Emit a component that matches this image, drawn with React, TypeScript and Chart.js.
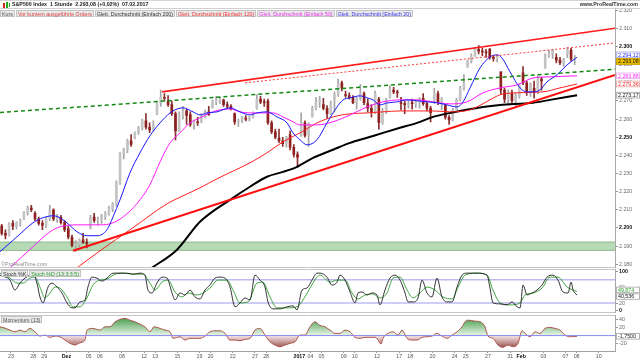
import React, { useEffect, useRef } from 'react';
import { Chart, registerables } from 'chart.js';

Chart.register(...registerables);

const FONT = '"Liberation Sans", Arial, Helvetica, sans-serif';
const FS = 5.3;
Chart.defaults.font.family = FONT;
Chart.defaults.font.size = FS;

// ---------- x axis: trading-day index, 0 = 23.11.2016 ----------
const X_MIN = -0.99;
const X_MAX = 54.46;
const FIRST_DAY = -1; // 22.11.2016
const BARS_PER_DAY = 3;

const dayTicks = [0, 2, 3, 5, 7, 8, 10, 12, 13, 15, 17, 18, 20, 22, 23, 26, 27, 28, 30, 31, 33, 35, 36, 38, 40, 41, 43, 45, 46, 48, 50, 51, 53];
const dayLabels = ['23', '28', '29', 'Dez', '05', '06', '08', '12', '13', '15', '19', '20', '22', '27', '28', '2017', '04', '05', '09', '10', '12', '17', '18', '20', '24', '25', '27', '31', 'Feb', '03', '07', '08', '10'];
const boldDayLabels = ['Dez', '2017', 'Feb'];

const priceTicks = [2180, 2190, 2200, 2210, 2220, 2230, 2240, 2250, 2260, 2270, 2280, 2290, 2300, 2310, 2320];
const boldPriceTicks = [2200, 2250, 2300];
const stochTicks = [0, 20, 40, 60, 100];
const boldStochTicks = [0, 100];
const momentumTicks = [-20, 0, 20, 40];

// ---------- candles (3 per trading day) ----------
const opens = [
  2201, 2197, 2196, 2202.5, 2201, 2203, 2205, 2208.5, 2211, 2208, 2205, 2202.5,
  2201.5, 2205, 2210, 2205, 2206, 2203, 2199.5, 2195, 2190.5, 2191, 2193.5, 2192,
  2200, 2206, 2204, 2205, 2206, 2208, 2210.5, 2213, 2225, 2241, 2243, 2248,
  2249.5, 2252.5, 2255, 2259, 2255.5, 2254, 2263, 2269, 2272, 2270, 2268, 2263,
  2253.5, 2262, 2264.5, 2262.5, 2257, 2258.5, 2259, 2261.5, 2264, 2266.5, 2269.5, 2270.5,
  2270.5, 2268, 2267, 2263, 2258.5, 2259.5, 2260.5, 2260, 2261, 2266, 2271, 2269.5,
  2270, 2258, 2253, 2249.5, 2248, 2246.5, 2251.5, 2244.5, 2240.5, 2251.5, 2258, 2251,
  2261.5, 2266, 2269.5, 2268, 2266, 2263, 2271, 2273.5, 2280, 2273.5, 2273, 2272,
  2269, 2271.5, 2274, 2268.5, 2266, 2264, 2271, 2258, 2264, 2272.5, 2276, 2275,
  2269, 2268.5, 2268, 2269, 2268.5, 2269.5, 2271.5, 2268.5, 2266, 2270, 2274, 2269.5,
  2267.5, 2261, 2259.5, 2265.5, 2270.5, 2277, 2289, 2292, 2295, 2298.5, 2297.5, 2297,
  2298.5, 2294, 2293.5, 2286, 2276, 2271, 2274, 2270, 2272.5, 2285.5, 2280, 2275,
  2277, 2275, 2282, 2288.5, 2295, 2296, 2294, 2292.5, 2291, 2296, 2298, 2293,
];
const highs = [
  2202, 2199, 2203, 2204, 2203.5, 2205, 2209, 2212, 2212.5, 2209, 2206, 2204,
  2206, 2212.5, 2210.5, 2207.5, 2207, 2204, 2201, 2196, 2193, 2194, 2197, 2194,
  2207, 2208, 2206, 2207.5, 2209, 2212, 2214, 2226, 2241.5, 2244, 2249, 2251.5,
  2253, 2256, 2260, 2263, 2258, 2259, 2270, 2276, 2274, 2273, 2270, 2264,
  2264, 2267, 2265.5, 2264, 2259.5, 2261, 2263, 2265, 2267, 2270.5, 2272.5, 2272,
  2271, 2269.5, 2268, 2263.5, 2260, 2261.5, 2262, 2261.5, 2264, 2273.5, 2272.5, 2271,
  2271, 2259, 2254.5, 2254.5, 2250, 2250.5, 2253.5, 2246, 2242, 2263.5, 2259, 2258,
  2267, 2272, 2272.5, 2271.5, 2267.5, 2270, 2275, 2282, 2281, 2275.5, 2274.5, 2273,
  2272, 2279, 2275, 2271, 2268, 2275.5, 2272, 2266, 2271.5, 2278.5, 2277.5, 2276,
  2272, 2270, 2270, 2271, 2270.5, 2272, 2274, 2269.5, 2267, 2277, 2275.5, 2272,
  2268, 2262, 2266, 2271.5, 2278, 2284.5, 2292.5, 2296, 2299.5, 2300.5, 2299, 2298.5,
  2299, 2295, 2295.5, 2286, 2277, 2276, 2276, 2274, 2279.5, 2289, 2281, 2280,
  2281, 2284, 2283, 2296, 2298, 2298.5, 2296, 2294, 2293.5, 2299.5, 2299, 2295,
];
const lows = [
  2196, 2194, 2195.5, 2199, 2199.5, 2201, 2204.5, 2207, 2209, 2204, 2201.5, 2199,
  2200, 2204, 2204, 2203, 2202, 2198, 2194, 2189.5, 2187, 2189.5, 2191.5, 2189,
  2199.5, 2203, 2201.5, 2202.5, 2204.5, 2207, 2209, 2212, 2224, 2238, 2241.5, 2245,
  2249, 2251.5, 2254, 2254.5, 2252.5, 2253.5, 2262.5, 2267, 2270, 2267, 2262, 2248.5,
  2253, 2260, 2257, 2256, 2254.5, 2256.5, 2258, 2260.5, 2262, 2266, 2268, 2268.5,
  2267, 2266, 2265, 2257, 2256, 2258, 2259, 2259, 2260.5, 2265.5, 2268.5, 2267,
  2257, 2252, 2249, 2247, 2245, 2244.5, 2243, 2239, 2233.5, 2250.5, 2250, 2245,
  2261, 2265, 2266.5, 2265, 2260.5, 2262.5, 2264, 2272.5, 2275.5, 2272, 2271, 2268.5,
  2265.5, 2270.5, 2268, 2264, 2261, 2263, 2254.5, 2257, 2263, 2271.5, 2274, 2272,
  2265, 2263, 2266, 2265.5, 2266.5, 2266, 2267.5, 2264.5, 2258.5, 2268.5, 2268, 2265,
  2260, 2257, 2259, 2265, 2270, 2276, 2288.5, 2291, 2294.5, 2296, 2295, 2294,
  2293, 2292, 2291.5, 2274, 2269, 2268, 2268, 2267, 2271.5, 2279, 2273, 2272.5,
  2271.5, 2274, 2276, 2288, 2294, 2293.5, 2291, 2290, 2289, 2294, 2292, 2290,
];
const closes = [
  2197, 2196, 2202.5, 2201, 2203, 2204.5, 2208.5, 2211, 2210, 2205, 2202.5, 2201.5,
  2205, 2210, 2205, 2206, 2203, 2199, 2195, 2190.5, 2191, 2193.5, 2192, 2191.5,
  2206, 2204, 2204.5, 2206, 2208, 2211.5, 2213, 2225, 2241, 2243, 2248, 2246,
  2252.5, 2255, 2259.5, 2255.5, 2254, 2257, 2269, 2272, 2271.5, 2268, 2263, 2253.5,
  2262, 2264.5, 2262, 2257, 2258.5, 2258, 2261.5, 2264, 2262.5, 2269.5, 2270.5, 2270.5,
  2268, 2267, 2265.5, 2258.5, 2259.5, 2261, 2260, 2261, 2263.5, 2271, 2269.5, 2269,
  2258, 2253, 2250, 2248, 2246.5, 2249.5, 2244.5, 2240.5, 2239, 2258, 2251, 2257.5,
  2266, 2269.5, 2270.5, 2266, 2263, 2269, 2273.5, 2280, 2277, 2273, 2272, 2269,
  2271.5, 2274, 2269, 2266, 2264, 2274, 2258, 2264, 2270.5, 2276, 2275, 2274.5,
  2268.5, 2268, 2268, 2268.5, 2269.5, 2271.5, 2268.5, 2266, 2263.5, 2274, 2269.5, 2271,
  2261, 2259.5, 2265, 2270.5, 2277, 2280, 2292, 2295, 2298.5, 2297.5, 2297, 2296.5,
  2294, 2293.5, 2294.5, 2276, 2271, 2274, 2270, 2272.5, 2279, 2280, 2275, 2279.5,
  2275, 2282, 2281, 2295, 2296, 2297.5, 2292.5, 2291, 2292.5, 2298, 2293, 2293.08,
];

// ---------- moving averages [day, price] ----------
const ma20 = [[-0.99, 2186.9], [0.54, 2195.1], [1.98, 2202.8], [2.89, 2205.6], [3.79, 2206.7], [4.24, 2206.1], [5.05, 2202.8], [5.95, 2197.9], [6.85, 2195.7], [7.75, 2195.7], [8.66, 2199.0], [9.2, 2206.1], [9.83, 2215.5], [10.73, 2230.4], [11.63, 2241.4], [12.53, 2250.8], [13.44, 2257.9], [14.34, 2263.4], [14.79, 2265.1], [15.51, 2266.2], [16.41, 2264.0], [17.04, 2262.3], [17.67, 2263.4], [18.58, 2264.0], [19.75, 2266.2], [20.65, 2264.0], [21.55, 2262.3], [22.18, 2263.4], [23.08, 2264.0], [23.99, 2261.2], [24.89, 2257.9], [25.43, 2252.4], [26.06, 2248.6], [26.69, 2245.8], [27.59, 2248.6], [28.49, 2257.9], [29.4, 2266.7], [29.94, 2270.6], [30.57, 2271.7], [31.47, 2272.8], [32.1, 2271.7], [32.64, 2270.6], [33.27, 2267.8], [33.9, 2268.9], [34.81, 2269.5], [35.71, 2270.6], [36.61, 2270.1], [37.51, 2269.5], [38.41, 2269.0], [39.31, 2267.8], [40.22, 2266.7], [40.76, 2269.5], [41.39, 2277.2], [42.29, 2288.2], [43.19, 2294.3], [43.82, 2295.4], [44.27, 2293.7], [45.0, 2286.0], [45.9, 2277.2], [46.53, 2275.0], [47.07, 2275.0], [47.7, 2276.1], [48.33, 2280.5], [49.23, 2284.4], [50.14, 2289.9], [51.04, 2294.12]];
const ma50 = [[-0.09, 2178.0], [1.98, 2189.6], [3.52, 2197.9], [4.42, 2200.6], [5.95, 2201.7], [8.03, 2201.7], [9.2, 2202.8], [10.46, 2207.8], [11.63, 2215.5], [12.53, 2223.8], [13.44, 2236.4], [14.34, 2246.9], [15.24, 2252.4], [16.14, 2257.9], [17.04, 2260.7], [17.94, 2263.4], [18.85, 2265.1], [19.75, 2265.6], [20.65, 2264.0], [21.55, 2263.4], [22.72, 2263.4], [23.62, 2263.4], [24.53, 2261.2], [25.43, 2258.5], [26.06, 2256.8], [27.59, 2256.8], [29.03, 2258.5], [30.57, 2262.3], [32.1, 2266.7], [33.54, 2269.5], [35.08, 2270.6], [36.61, 2270.6], [38.05, 2269.5], [39.58, 2268.4], [41.12, 2269.5], [42.56, 2274.5], [44.09, 2277.2], [45.63, 2278.9], [47.07, 2282.7], [48.6, 2283.3], [51.04, 2283.88]];
const ma120 = [[5.95, 2178.0], [8.03, 2187.4], [11.0, 2200.1], [14.07, 2213.3], [15.51, 2217.7], [17.04, 2222.1], [18.58, 2227.1], [21.55, 2235.9], [23.08, 2241.4], [24.53, 2247.5], [26.06, 2252.4], [27.59, 2257.9], [29.03, 2261.2], [30.57, 2262.9], [32.1, 2263.4], [33.54, 2264.0], [35.08, 2264.5], [36.61, 2264.5], [38.05, 2264.5], [39.58, 2264.0], [41.39, 2265.1], [43.19, 2270.6], [44.09, 2273.4], [45.63, 2274.5], [47.97, 2275.0], [49.5, 2277.2], [51.04, 2279.36]];
const ma200 = [[12.71, 2178.0], [14.97, 2188.0], [17.04, 2203.4], [20.02, 2216.6], [21.55, 2222.7], [23.08, 2228.2], [24.53, 2230.9], [25.79, 2233.7], [27.23, 2238.6], [29.03, 2243.1], [30.57, 2246.9], [32.1, 2249.7], [33.54, 2252.4], [35.08, 2255.2], [36.61, 2257.9], [38.05, 2261.2], [39.58, 2263.4], [42.56, 2266.7], [44.09, 2267.8], [47.07, 2269.0], [48.6, 2270.6], [51.04, 2273.17]];

// ---------- drawn trend lines [day, price] ----------
const upperChannel = [[13.62, 2275.0], [54.46, 2310.1]];
const upperDotted = [[21.1, 2280.0], [54.46, 2302.0]];
const greenDashed = [[-0.99, 2263.6], [54.46, 2287.5]];
const lowerChannel = [[5.59, 2187.4], [54.46, 2284.4]];
const supportZone = [2187.6, 2192.2];

// ---------- stochastic [day, value] ----------
const stochK = [[-0.99, 91.6], [-0.54, 87.3], [-0.09, 78.9], [0.36, 53.4], [0.81, 71.2], [1.26, 84.0], [1.71, 91.6], [1.98, 96.7], [2.34, 71.2], [2.61, 35.6], [2.89, 20.4], [3.34, 61.1], [3.7, 71.2], [4.15, 61.1], [4.6, 45.8], [5.05, 20.4], [5.5, 7.6], [5.77, 7.6], [6.22, 22.9], [6.67, 28.0], [6.94, 61.1], [7.3, 86.5], [7.75, 84.0], [8.21, 76.3], [8.66, 84.0], [9.2, 96.7], [9.83, 96.7], [10.46, 96.7], [11.0, 94.1], [11.63, 96.7], [12.08, 91.6], [12.35, 53.4], [12.71, 45.8], [13.16, 71.2], [13.62, 86.5], [14.07, 84.0], [14.52, 45.8], [14.79, 28.0], [15.24, 45.8], [15.69, 40.7], [16.14, 53.4], [16.59, 35.6], [17.04, 30.5], [17.49, 53.4], [17.94, 66.2], [18.39, 84.0], [18.85, 86.5], [19.3, 84.0], [19.75, 61.1], [20.2, 10.2], [20.65, 20.4], [21.1, 33.1], [21.55, 28.0], [22.0, 91.6], [22.45, 78.9], [22.9, 61.1], [23.17, 22.9], [23.62, 5.1], [24.26, 5.1], [24.89, 10.2], [25.43, 12.7], [25.79, 2.5], [26.24, 53.4], [26.69, 58.5], [27.14, 78.9], [27.59, 96.7], [27.86, 96.7], [28.49, 86.5], [28.94, 66.2], [29.4, 73.8], [29.67, 91.6], [30.12, 78.9], [30.57, 48.3], [31.02, 20.4], [31.29, 45.8], [31.65, 48.3], [32.1, 40.7], [32.55, 45.8], [33.0, 40.7], [33.27, 15.3], [33.72, 53.4], [34.17, 84.0], [34.63, 91.6], [35.08, 78.9], [35.53, 45.8], [35.8, 22.9], [36.25, 22.9], [36.7, 33.1], [37.06, 78.9], [37.51, 45.8], [37.96, 35.6], [38.41, 84.0], [38.86, 35.6], [39.31, 22.9], [39.77, 22.9], [40.22, 61.1], [40.67, 91.6], [41.12, 96.7], [42.02, 96.7], [42.92, 91.6], [43.19, 58.5], [43.46, 20.4], [44.09, 17.8], [44.72, 15.3], [45.18, 22.9], [45.63, 10.2], [45.9, 7.6], [46.17, 66.2], [46.53, 40.7], [46.98, 45.8], [47.43, 53.4], [47.88, 66.2], [48.33, 86.5], [48.87, 91.6], [49.32, 78.9], [49.77, 48.3], [50.23, 45.8], [50.5, 73.8], [50.68, 53.4], [51.04, 40.536]];
const stochD = [[-0.99, 96.7], [-0.09, 84.0], [0.54, 71.2], [1.08, 71.2], [1.71, 84.0], [2.16, 86.5], [2.61, 61.1], [3.07, 33.1], [3.52, 45.8], [3.97, 61.1], [4.42, 58.5], [5.05, 35.6], [5.59, 10.2], [6.22, 10.2], [6.85, 33.1], [7.39, 66.2], [8.03, 78.9], [8.66, 81.4], [9.38, 94.1], [10.1, 96.7], [11.0, 94.1], [11.9, 94.1], [12.53, 71.2], [12.98, 53.4], [13.62, 73.8], [14.16, 78.9], [14.79, 48.3], [15.42, 35.6], [15.96, 45.8], [16.77, 40.7], [17.31, 45.8], [17.94, 58.5], [18.67, 78.9], [19.48, 78.9], [20.02, 53.4], [20.65, 20.4], [21.37, 22.9], [22.18, 71.2], [22.72, 73.8], [23.35, 35.6], [23.99, 7.6], [24.89, 7.6], [25.79, 10.2], [26.33, 28.0], [26.96, 58.5], [27.59, 86.5], [27.86, 91.6], [28.76, 73.8], [29.4, 78.9], [30.12, 78.9], [30.75, 45.8], [31.29, 30.5], [31.92, 40.7], [32.64, 43.3], [33.27, 33.1], [33.9, 45.8], [34.45, 84.0], [35.08, 86.5], [35.71, 53.4], [36.25, 33.1], [36.88, 45.8], [37.51, 61.1], [38.23, 53.4], [38.95, 35.6], [39.77, 30.5], [40.31, 61.1], [40.94, 91.6], [42.02, 96.7], [42.92, 91.6], [43.46, 53.4], [44.09, 20.4], [45.0, 15.3], [45.9, 20.4], [46.35, 40.7], [47.07, 45.8], [47.88, 58.5], [48.6, 86.5], [49.32, 86.5], [50.14, 61.1], [51.04, 49.874]];
const stochLevels = [80, 20];

// ---------- momentum (13) [day, value] ----------
const momentum = [[-0.99, 21.5], [-0.54, 18.3], [-0.09, 13.4], [0.36, 9.3], [0.81, 13.4], [1.26, 9.3], [1.71, 17.6], [2.16, 9.3], [2.61, -1.2], [3.07, 1.2], [3.52, -4.4], [3.97, -1.2], [4.42, -2.9], [4.87, -11.0], [5.32, -19.0], [5.77, -23.2], [6.22, -17.6], [6.67, -11.0], [6.85, 13.4], [7.39, 17.6], [8.03, 13.4], [8.48, 21.5], [8.93, 21.5], [9.38, 33.7], [9.83, 39.5], [10.28, 42.0], [10.73, 37.8], [11.18, 33.7], [11.63, 28.0], [12.08, 21.5], [12.53, 9.3], [12.89, 21.5], [13.44, 17.6], [13.89, 13.4], [14.34, 9.3], [14.61, -6.8], [15.24, -2.9], [15.69, -11.0], [16.14, -6.8], [16.59, -6.8], [17.04, -6.8], [17.49, -1.2], [17.94, 9.3], [18.39, 11.7], [18.85, 11.7], [19.3, 5.4], [19.75, -11.0], [20.2, -11.0], [20.65, -12.7], [21.1, -9.3], [21.55, -6.8], [22.0, 13.4], [22.45, 17.6], [22.9, 1.2], [23.35, -15.1], [23.81, -23.2], [24.26, -27.3], [24.71, -23.2], [25.16, -19.0], [25.61, -15.1], [26.06, 1.2], [26.51, 1.2], [26.96, 21.5], [27.41, 33.7], [27.86, 25.0], [28.31, 21.5], [28.76, 13.4], [29.21, 5.4], [29.67, 5.4], [30.12, 13.4], [30.57, 9.3], [31.02, -4.4], [31.47, -6.8], [31.92, -4.4], [32.37, -4.4], [32.82, -4.4], [33.09, -11.0], [33.36, -20.7], [33.54, -6.8], [33.99, 5.4], [34.45, 9.3], [34.9, 1.2], [35.26, 13.4], [35.71, -6.8], [36.16, -11.0], [36.61, -11.0], [37.06, -4.4], [37.51, -2.9], [37.96, -1.2], [38.41, 5.4], [38.86, -1.2], [39.31, -6.8], [39.77, 1.2], [40.22, 9.3], [40.67, 21.5], [40.94, 33.7], [41.21, 37.8], [41.84, 35.4], [42.29, 33.7], [42.74, 21.5], [43.01, -1.2], [43.46, -6.8], [43.91, -23.2], [44.36, -28.8], [44.81, -23.2], [45.27, -27.3], [45.72, -19.0], [46.08, 11.7], [46.35, 5.4], [46.8, -2.9], [47.25, 9.3], [47.7, 5.4], [48.15, 17.6], [48.6, 20.0], [49.05, 17.6], [49.5, 13.4], [49.95, 1.2], [50.41, -2.9], [51.04, -1.75]];

// ---------- helpers ----------
const last = (a: number[][]) => a[a.length - 1][1];
const toXY = (a: number[][]) => a.map(([x, y]) => ({ x, y }));
const barX = (i: number) => FIRST_DAY + Math.floor(i / BARS_PER_DAY) + ((i % BARS_PER_DAY) + 0.5) / BARS_PER_DAY;
const isUp = (i: number) => closes[i] >= opens[i];

function deNum(v: number, dec: number) {
  const s = Math.abs(v).toFixed(dec);
  const [int, frac] = s.split('.');
  const g = int.replace(/\B(?=(\d{3})+(?!\d))/g, '.');
  return (v < 0 ? '-' : '') + g + (frac ? ',' + frac : '');
}

type Box = { value: number; text: string; color: string; bg: string; border: string };

function decorPlugin(boxes: Box[], edges: string[]) {
  return {
    id: 'decor',
    afterDraw(chart: any) {
      const { ctx, chartArea: a, scales } = chart;
      ctx.save();
      ctx.strokeStyle = '#c6c6c6';
      ctx.lineWidth = 1;
      edges.forEach((e) => {
        const yy = e === 'top' ? Math.floor(a.top) + 0.5 : Math.ceil(a.bottom) - 0.5;
        ctx.beginPath();
        ctx.moveTo(a.left, yy);
        ctx.lineTo(a.right, yy);
        ctx.stroke();
      });
      const h = 6.6;
      const ys = boxes.map((b) => scales.y.getPixelForValue(b.value));
      const idx = ys.map((_, i) => i).sort((p, q) => ys[p] - ys[q]);
      for (let k = 1; k < idx.length; k++) {
        const p = idx[k - 1];
        const q = idx[k];
        if (ys[q] - ys[p] < h) {
          const m = (ys[p] + ys[q]) / 2;
          ys[p] = m - h / 2;
          ys[q] = m + h / 2;
        }
      }
      ctx.font = `${FS}px ${FONT}`;
      ctx.textBaseline = 'middle';
      ctx.textAlign = 'left';
      boxes.forEach((b, i) => {
        const top = ys[i] - h / 2;
        ctx.fillStyle = b.bg;
        ctx.fillRect(a.right + 1, top, 24, h);
        ctx.strokeStyle = b.border;
        ctx.strokeRect(a.right + 1.5, top + 0.5, 23, h - 1);
        ctx.fillStyle = b.color;
        ctx.fillText(b.text, a.right + 3, ys[i] + 0.4);
      });
      ctx.restore();
    },
  };
}

function rightAxis(min: number, max: number, ticks: number[], bold: number[], fmt: (v: number) => string) {
  return {
    position: 'right',
    min,
    max,
    beginAtZero: false,
    afterFit: (s: any) => { s.width = 25; },
    afterBuildTicks: (s: any) => { s.ticks = ticks.map((v) => ({ value: v })); },
    ticks: {
      padding: 1,
      autoSkip: false,
      font: (c: any) => ({ family: FONT, size: FS, weight: c.tick && bold.includes(c.tick.value) ? 'bold' : 'normal' }),
      color: (c: any) => (c.tick && bold.includes(c.tick.value) ? '#111' : '#6a6a6a'),
      callback: (v: any) => fmt(Number(v)),
    },
    grid: { drawOnChartArea: false, drawTicks: true, tickLength: 3, color: '#999' },
    border: { display: true, color: '#a8a8a8' },
  };
}

const hiddenX = { type: 'linear', min: X_MIN, max: X_MAX, display: false, offset: false, grid: { offset: false } };

function lineDs(data: number[][], color: string, width: number, order: number, dash: number[] = [], smooth = true) {
  return {
    type: 'line',
    data: toXY(data),
    borderColor: color,
    borderWidth: width,
    borderDash: dash,
    pointRadius: 0,
    fill: false,
    cubicInterpolationMode: smooth ? 'monotone' : 'default',
    tension: 0,
    order,
  };
}

function mainConfig(): any {
  const full = (v: number) => [[X_MIN, v], [X_MAX, v]];
  return {
    type: 'bar',
    data: {
      datasets: [
        lineDs(upperChannel, '#ff1a1a', 1.6, 1, [], false),
        lineDs(upperDotted, '#ff3a3a', 1, 1, [2, 2], false),
        lineDs(greenDashed, '#138a13', 1.5, 1, [4, 3], false),
        lineDs(lowerChannel, '#ff1010', 2, 1, [], false),
        lineDs(ma20, '#1a1aff', 1, 2),
        lineDs(ma50, '#ff1aff', 1, 3),
        lineDs(ma120, '#ff2020', 1, 4),
        lineDs(ma200, '#000000', 2, 5),
        {
          type: 'bar',
          data: closes.map((_, i) => ({ x: barX(i), y: [opens[i], closes[i]] })),
          backgroundColor: (c: any) => (c.dataIndex === undefined || isUp(c.dataIndex) ? '#c4c4c4' : '#8e2020'),
          borderWidth: 0,
          borderSkipped: false,
          barThickness: 2,
          minBarLength: 1,
          grouped: false,
          order: 6,
        },
        {
          type: 'bar',
          data: closes.map((_, i) => ({ x: barX(i), y: [lows[i], highs[i]] })),
          backgroundColor: (c: any) => (c.dataIndex === undefined || isUp(c.dataIndex) ? '#a4a4a4' : '#8a3030'),
          borderWidth: 0,
          barThickness: 1,
          grouped: false,
          order: 7,
        },
        {
          type: 'line',
          data: toXY(full(supportZone[1])),
          borderColor: '#8dbb8d',
          borderWidth: 1,
          pointRadius: 0,
          fill: false,
          order: 9,
        },
        {
          type: 'line',
          data: toXY(full(supportZone[0])),
          borderColor: '#8dbb8d',
          borderWidth: 1,
          pointRadius: 0,
          fill: '-1',
          backgroundColor: 'rgba(168, 212, 168, 0.85)',
          order: 9,
        },
      ],
    },
    options: {
      animation: false,
      responsive: false,
      maintainAspectRatio: false,
      layout: { padding: { top: 9, bottom: 4, left: 0, right: 0 } },
      plugins: { legend: { display: false }, tooltip: { enabled: false } },
      scales: {
        x: hiddenX,
        y: rightAxis(2178.0, 2320.7, priceTicks, boldPriceTicks, (v) => (v / 1000).toFixed(3)),
      },
    },
    plugins: [
      decorPlugin(
        [
          { value: last(ma20), text: deNum(last(ma20), 2), color: '#2b2bff', bg: '#ffffff', border: '#b9b9e6' },
          { value: closes[closes.length - 1], text: deNum(closes[closes.length - 1], 2), color: '#111', bg: '#f2c300', border: '#c9a000' },
          { value: last(ma50), text: deNum(last(ma50), 2), color: '#ff2aff', bg: '#ffffff', border: '#ecb6ec' },
          { value: last(ma120), text: deNum(last(ma120), 2), color: '#ff2a2a', bg: '#ffffff', border: '#ecb6b6' },
          { value: last(ma200), text: deNum(last(ma200), 2), color: '#111', bg: '#ffffff', border: '#b4b4b4' },
        ],
        ['bottom'],
      ),
    ],
  };
}

function stochConfig(): any {
  return {
    type: 'line',
    data: {
      datasets: [
        lineDs(stochK, '#1e1e1e', 0.9, 1),
        lineDs(stochD, '#2c9c2c', 0.9, 2),
        ...stochLevels.map((v) => lineDs([[X_MIN, v], [X_MAX, v]], '#bcbcf2', 1.5, 5, [], false)),
      ],
    },
    options: {
      animation: false,
      responsive: false,
      maintainAspectRatio: false,
      layout: { padding: { top: 4, bottom: 4, left: 0, right: 0 } },
      plugins: { legend: { display: false }, tooltip: { enabled: false } },
      scales: {
        x: hiddenX,
        y: rightAxis(-5.1, 106.9, stochTicks, boldStochTicks, (v) => String(v)),
      },
    },
    plugins: [
      decorPlugin(
        [
          { value: last(stochD), text: deNum(last(stochD), 3), color: '#2c9c2c', bg: '#ffffff', border: '#b4b4b4' },
          { value: last(stochK), text: deNum(last(stochK), 3), color: '#222', bg: '#ffffff', border: '#b4b4b4' },
        ],
        ['top', 'bottom'],
      ),
    ],
  };
}

function momentumConfig(): any {
  return {
    type: 'line',
    data: {
      datasets: [
        {
          type: 'line',
          data: toXY(momentum),
          borderColor: '#a8443c',
          borderWidth: 0.9,
          pointRadius: 0,
          cubicInterpolationMode: 'monotone',
          fill: { target: { value: 0 } },
          backgroundColor: (c: any) => {
            const chart = c.chart;
            const area = chart.chartArea;
            if (!area) return 'rgba(0,0,0,0)';
            const y0 = chart.scales.y.getPixelForValue(0);
            const f = Math.min(0.98, Math.max(0.02, (y0 - area.top) / (area.bottom - area.top)));
            const g = chart.ctx.createLinearGradient(0, area.top, 0, area.bottom);
            g.addColorStop(0, '#2f8f35');
            g.addColorStop(f - 0.015, '#e4f3e4');
            g.addColorStop(f + 0.015, '#f3e2e2');
            g.addColorStop(1, '#7e2a26');
            return g;
          },
          order: 2,
        },
        lineDs([[X_MIN, 0], [X_MAX, 0]], '#8a8af0', 1, 1, [], false),
      ],
    },
    options: {
      animation: false,
      responsive: false,
      maintainAspectRatio: false,
      layout: { padding: { top: 4, bottom: 0, left: 0, right: 0 } },
      plugins: { legend: { display: false }, tooltip: { enabled: false } },
      scales: {
        x: {
          type: 'linear',
          min: X_MIN,
          max: X_MAX,
          offset: false,
          afterFit: (s: any) => { s.height = 9; },
          afterBuildTicks: (s: any) => { s.ticks = dayTicks.map((v) => ({ value: v })); },
          ticks: {
            autoSkip: false,
            maxRotation: 0,
            minRotation: 0,
            padding: 0,
            callback: (_v: any, i: number) => dayLabels[i],
            font: (c: any) => ({ family: FONT, size: FS, weight: boldDayLabels.includes(dayLabels[c.index]) ? 'bold' : 'normal' }),
            color: (c: any) => (boldDayLabels.includes(dayLabels[c.index]) ? '#111' : '#555'),
          },
          grid: { drawOnChartArea: false, drawTicks: true, tickLength: 2, color: '#999', offset: false },
          border: { display: true, color: '#a0a0a0' },
        },
        y: rightAxis(-37.8, 50, momentumTicks, [], (v) => String(v)),
      },
    },
    plugins: [
      decorPlugin(
        [{ value: last(momentum), text: deNum(last(momentum), 4), color: '#222', bg: '#ffffff', border: '#b4b4b4' }],
        ['top'],
      ),
    ],
  };
}

const legendItems = [
  { text: 'Kurs', color: '#555555' },
  { text: 'Vor kurzem ausgeführte Orders', color: '#e23c3c' },
  { text: 'Gleit. Durchschnitt (Einfach 200)', color: '#333333' },
  { text: 'Gleit. Durchschnitt (Einfach 120)', color: '#f03030' },
  { text: 'Gleit. Durchschnitt (Einfach 50)', color: '#ee2fee' },
  { text: 'Gleit. Durchschnitt (Einfach 20)', color: '#3434f0' },
];

const tag: React.CSSProperties = {
  display: 'inline-block',
  height: 7,
  lineHeight: '6px',
  boxSizing: 'border-box',
  border: '1px solid #c4c4c4',
  background: '#e9e9e9',
  padding: '0 1px',
  marginRight: 1,
  whiteSpace: 'nowrap',
  fontSize: FS,
  verticalAlign: 'top',
};

export default function App() {
  const mainRef = useRef<HTMLCanvasElement>(null);
  const stochRef = useRef<HTMLCanvasElement>(null);
  const momRef = useRef<HTMLCanvasElement>(null);

  useEffect(() => {
    document.body.style.margin = '0';
    const charts = [
      new Chart(mainRef.current as HTMLCanvasElement, mainConfig()),
      new Chart(stochRef.current as HTMLCanvasElement, stochConfig()),
      new Chart(momRef.current as HTMLCanvasElement, momentumConfig()),
    ];
    return () => charts.forEach((c) => c.destroy());
  }, []);

  const cv = (top: number, h: number): React.CSSProperties => ({ position: 'absolute', left: 0, top, width: 640, height: h });

  return (
    <div style={{ position: 'absolute', left: 0, top: 0, width: 640, height: 360, background: '#fff', overflow: 'hidden', fontFamily: FONT, fontSize: FS }}>
      <canvas ref={mainRef} width={640} height={272} style={cv(0, 272)} />
      <canvas ref={stochRef} width={640} height={52} style={cv(265, 52)} />
      <canvas ref={momRef} width={640} height={49} style={cv(311, 49)} />

      <div style={{ position: 'absolute', left: 0, top: 0, width: 640, height: 9, boxSizing: 'border-box', borderTop: '1px solid #d6d6d6', borderBottom: '1px solid #cfcfcf', background: '#fff' }}>
        <div style={{ position: 'absolute', left: 3, top: 2, width: 2, height: 5, background: '#d22' }} />
        <div style={{ position: 'absolute', left: 6, top: 1, width: 2, height: 6, background: '#2a2' }} />
        <div style={{ position: 'absolute', left: 9, top: 2, width: 1, height: 4, background: '#2a2' }} />
        <div style={{ position: 'absolute', left: 12, top: 0, lineHeight: '7px', fontWeight: 'bold', color: '#222', whiteSpace: 'nowrap' }}>
          S&amp;P500 Index&nbsp;&nbsp;1 Stunde&nbsp;&nbsp;2.293,08 (+0,02%)&nbsp;&nbsp;07.02.2017
        </div>
        <div style={{ position: 'absolute', right: 2, top: 0, lineHeight: '7px', fontWeight: 'bold', color: '#333', whiteSpace: 'nowrap' }}>
          www.ProRealTime.com
        </div>
      </div>

      <div style={{ position: 'absolute', left: 0, top: 10, whiteSpace: 'nowrap' }}>
        {legendItems.map((it) => (
          <span key={it.text} style={{ ...tag, color: it.color }}>{it.text}</span>
        ))}
      </div>

      <div style={{ position: 'absolute', left: 1, top: 261, color: '#8a8a8a', whiteSpace: 'nowrap', lineHeight: '6px' }}>©ProRealTime.com</div>

      <div style={{ position: 'absolute', left: 1, top: 270, whiteSpace: 'nowrap' }}>
        <span style={{ ...tag, color: '#333' }}>Stoch %K</span>
        <span style={{ ...tag, color: '#2c9c2c' }}>Stoch %D (13;3;3;5)</span>
      </div>
      <div style={{ position: 'absolute', left: 1, top: 316, whiteSpace: 'nowrap' }}>
        <span style={{ ...tag, color: '#555' }}>Momentum (13)</span>
      </div>
    </div>
  );
}
